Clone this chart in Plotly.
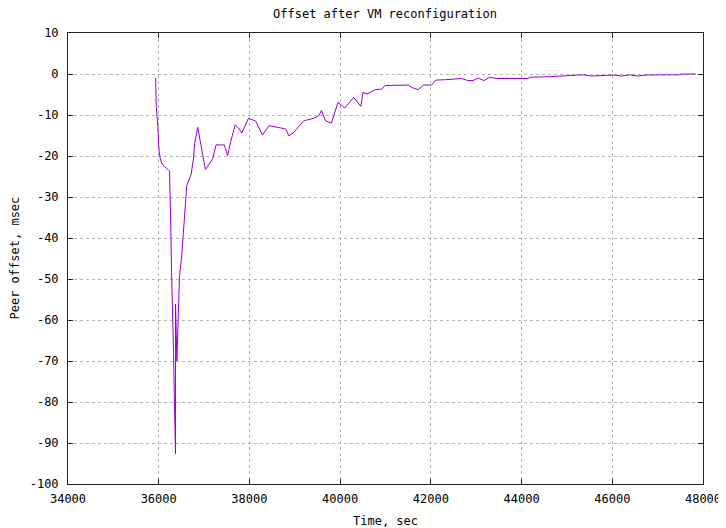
import plotly.graph_objects as go

time_sec = [35932, 35945, 35980, 36005, 36034, 36078, 36239, 36254, 36268, 36283, 36312, 36327, 36342, 36356, 36371,
            36371, 36385, 36400, 36429, 36459, 36502, 36532, 36561, 36605, 36619, 36715, 36766, 36795, 36861, 36934,
            37029, 37190, 37263, 37446, 37519, 37592, 37687, 37774, 37833, 37979, 38140, 38286, 38432, 38798, 38871,
            38981, 39200, 39419, 39529, 39588, 39676, 39807, 39953, 40100, 40297, 40458, 40502, 40590, 40773, 40919,
            40992, 41504, 41577, 41723, 41833, 42016, 42103, 42308, 42488, 42673, 42819, 42929, 43039, 43114, 43171,
            43297, 43444, 44141, 44179, 44620, 45023, 45354, 45539, 45832, 46015, 46200, 46383, 46566, 46751, 47192,
            47485, 47523, 47839]
offset_msec = [-1.0, -7.7, -12.6, -18.3, -20.7, -22.0, -23.7, -28.9, -38.6, -48.4, -58.1, -67.9, -77.6, -87.4, -92.7,
               -56.1, -66.3, -70.0, -59.8, -49.2, -45.1, -40.2, -37.8, -30.5, -27.2, -24.4, -20.7, -16.7, -13.0, -17.5,
               -23.3, -20.7, -17.3, -17.3, -19.9, -16.3, -12.4, -13.4, -14.4, -10.8, -11.5, -14.9, -12.6, -13.4, -15.1,
               -14.2, -11.4, -10.8, -10.2, -8.9, -11.4, -12.0, -6.9, -8.3, -5.7, -7.9, -4.5, -4.9, -3.8, -3.7,
               -2.8, -2.7, -3.3, -3.8, -2.7, -2.7, -1.5, -1.4, -1.2, -1.1, -1.6, -1.6, -1.0, -1.3, -1.6,
               -0.8, -1.1, -1.1, -0.8, -0.65, -0.5, -0.2, -0.5, -0.25, -0.25, -0.5, -0.2, -0.5, -0.25, -0.2,
               -0.2, 0.0, 0.0]

x_ticks = [34000, 36000, 38000, 40000, 42000, 44000, 46000, 48000]
y_ticks = [10, 0, -10, -20, -30, -40, -50, -60, -70, -80, -90, -100]

FONT = "DejaVu Sans Mono"
FS = 12

fig = go.Figure()
fig.add_trace(go.Scatter(x=time_sec, y=offset_msec, mode="lines",
                         line=dict(color="#9400d3", width=1), showlegend=False))

axis_common = dict(showline=True, linecolor="#222222", linewidth=1, mirror="allticks",
                   ticks="inside", ticklen=5, tickcolor="#222222", automargin=False,
                   showgrid=True, gridcolor="#b4b4b4", griddash="dot", gridwidth=1,
                   zeroline=False, tickfont=dict(family=FONT, size=FS, color="black"))

fig.update_layout(
    width=718, height=520,
    margin=dict(l=60, r=23, t=25, b=44, autoexpand=False),
    paper_bgcolor="white", plot_bgcolor="white",
    font=dict(family=FONT, size=FS, color="black"),
    title=dict(text="Offset after VM reconfiguration", x=377 / 718, xanchor="center",
               y=1 - 5.5 / 520, yanchor="middle", automargin=False,
               font=dict(family=FONT, size=FS)),
    xaxis=dict(range=[34000, 48000], tickvals=x_ticks, ticktext=[str(v) for v in x_ticks],
               ticklabelstandoff=4, **axis_common),
    yaxis=dict(range=[-100, 10], tickvals=y_ticks, ticktext=[str(v) for v in y_ticks],
               ticklabelstandoff=6, **axis_common),
    annotations=[
        dict(text="Time, sec", xref="paper", yref="paper", x=0.5, y=0, yshift=-37,
             xanchor="center", yanchor="middle", showarrow=False, font=dict(family=FONT, size=FS)),
        dict(text="Peer offset, msec", xref="paper", yref="paper", x=0, y=0.5, xshift=-54,
             xanchor="center", yanchor="middle", textangle=-90, showarrow=False,
             font=dict(family=FONT, size=FS)),
    ],
)

fig.write_html("out.html")
